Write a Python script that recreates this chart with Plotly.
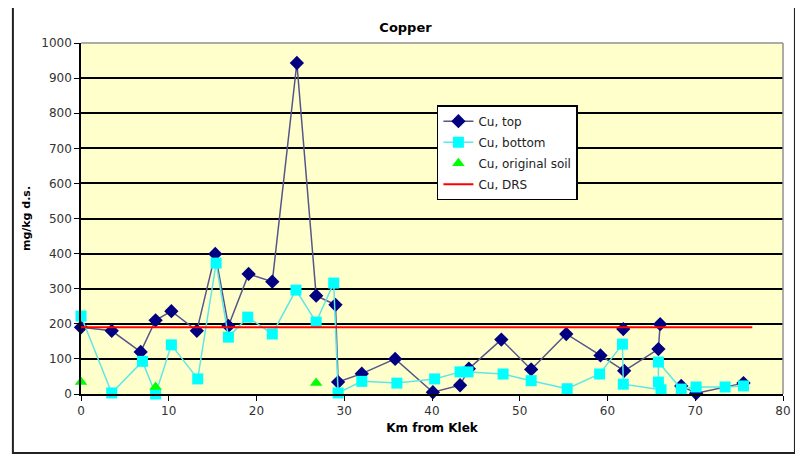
import plotly.graph_objects as go

# Cu, top (None = break in the line)
top_km = [0, 3.5, 6.8, 8.5, 10.3, 13.2, 15.3, 16.8, 19.1, 21.8, 24.6, 26.8, 29.0, 29.3,
          32.0, 35.8, 40.1, 43.2, 44.2, 47.9, 51.3, 55.3, 59.2, 61.9, 65.8, 66.0, None,
          61.8, None, 68.4, 70.1, 75.5]
top_cu = [190, 180, 120, 210, 236, 180, 399, 194, 342, 320, 943, 280, 254, 34,
          58, 100, 5, 25, 72, 155, 70, 171, 110, 66, 128, 199, None,
          185, None, 23, 2, 31]

# Cu, bottom
bot_km = [0, 3.5, 7.0, 8.5, 10.3, 13.3, 15.4, 16.8, 19.0, 21.8, 24.5, 26.8, 28.8, 29.3,
          32.0, 36.0, 40.3, 43.2, 44.1, 48.1, 51.3, 55.4, 59.1, 61.7, 61.8, 66.1, 65.8,
          65.8, 68.4, 70.1, 73.4, 75.5]
bot_cu = [222, 3, 93, 0, 140, 43, 373, 162, 219, 171, 296, 205, 316, 3,
          36, 31, 43, 63, 63, 57, 38, 15, 57, 142, 28, 12, 34,
          91, 14, 20, 20, 23]

# Cu, original soil
soil_km = [0, 8.5, 26.8]
soil_cu = [34, 20, 31]

# Cu, DRS
drs_km = [0, 76.5]
drs_cu = [190, 190]

y_ticks = list(range(0, 1001, 100))
x_ticks = list(range(0, 81, 10))

FONT = "DejaVu Sans, Arial, sans-serif"

fig = go.Figure()
fig.add_trace(go.Scatter(
    x=top_km, y=top_cu, name="Cu, top", mode="lines+markers", legendgroup="a",
    line=dict(color="#55558a", width=1.5),
    marker=dict(symbol="diamond", size=11, color="#000080"),
    connectgaps=False, cliponaxis=False,
))
fig.add_trace(go.Scatter(
    x=bot_km, y=bot_cu, name="Cu, bottom", mode="lines+markers", legendgroup="b",
    line=dict(color="#5fe6e6", width=1.5),
    marker=dict(symbol="square", size=11, color="#00ffff"),
    cliponaxis=False,
))
fig.add_trace(go.Scatter(
    x=soil_km, y=soil_cu, name="Cu, original soil", mode="markers", legendgroup="c",
    marker=dict(symbol="triangle-up", size=11, color="#00ff00"),
    cliponaxis=False,
))
fig.add_trace(go.Scatter(
    x=drs_km, y=drs_cu, name="Cu, DRS", mode="lines", legendgroup="d",
    line=dict(color="#ff0000", width=2),
))

# page has an 8px body margin, so the figure is sized to fit inside it
fig.update_layout(
    width=795, height=450,
    margin=dict(l=73, r=20, t=35, b=64),
    paper_bgcolor="white",
    plot_bgcolor="#ffffcc",
    font=dict(family=FONT, size=11, color="#222"),
    title=dict(text="<b>Copper</b>", x=0.5, xanchor="center", y=0.956, yanchor="middle",
               font=dict(family=FONT, size=13, color="black")),
    xaxis=dict(
        range=[0, 80], tickvals=x_ticks, showgrid=False, zeroline=False,
        showline=True, linecolor="black", linewidth=1.5,
        ticks="outside", ticklen=5, tickcolor="black",
        tickfont=dict(family=FONT, size=12, color="#333"),
        title=dict(text="<b>Km from Klek</b>", standoff=6,
                   font=dict(family=FONT, size=12, color="black")),
    ),
    yaxis=dict(
        range=[0, 1000], tickvals=y_ticks, showgrid=True, gridcolor="black",
        gridwidth=1.5, zeroline=False,
        showline=True, linecolor="black", linewidth=1.5,
        ticks="outside", ticklen=5, tickcolor="black",
        tickfont=dict(family=FONT, size=12, color="#333"),
        title=dict(text="<b>mg/kg d.s.</b>", standoff=8,
                   font=dict(family=FONT, size=11, color="black")),
    ),
    legend=dict(
        x=0.507, y=0.823, xanchor="left", yanchor="top",
        bgcolor="white", bordercolor="black", borderwidth=1.5,
        font=dict(family=FONT, size=12, color="#222"),
        tracegroupgap=2, itemwidth=30,
    ),
    shapes=[
        dict(type="line", xref="paper", yref="paper", x0=0, x1=1, y0=1, y1=1,
             line=dict(color="#909090", width=1.5)),
        dict(type="line", xref="paper", yref="paper", x0=1, x1=1, y0=0, y1=1,
             line=dict(color="#909090", width=1.5)),
        dict(type="rect", xref="paper", yref="paper", x0=-0.097, x1=1.017,
             y0=-0.168, y1=1.114, line=dict(color="#222", width=2)),
    ],
)

fig.write_html("out.html")
